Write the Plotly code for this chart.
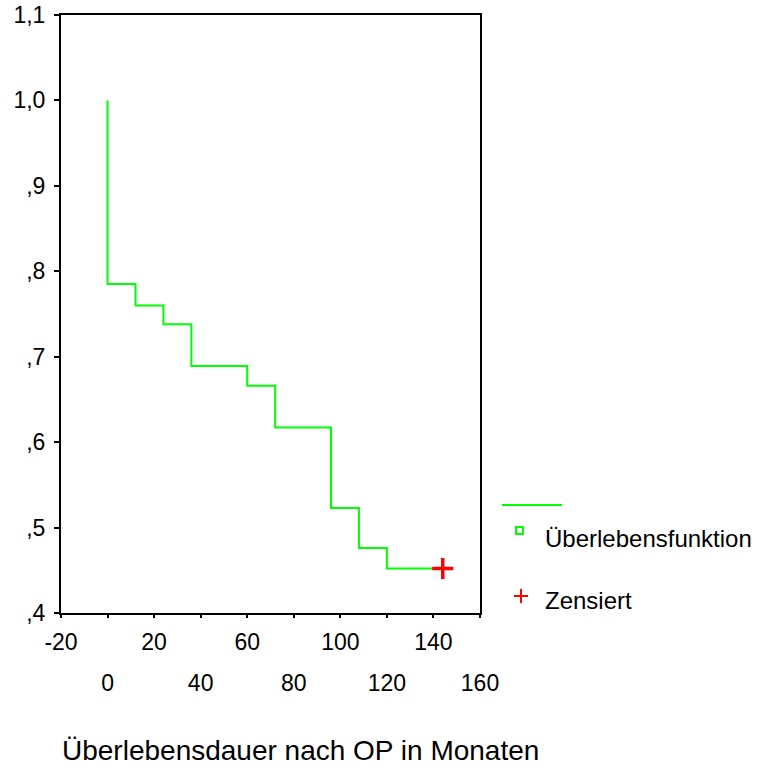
import plotly.graph_objects as go

# Kaplan-Meier survival steps (months, survival)
months = [0, 0, 12, 24, 36, 60, 72, 96, 108, 120, 144]
survival = [1.0, 0.785, 0.760, 0.738, 0.689, 0.666, 0.617, 0.523, 0.476, 0.452, 0.452]
censored_months = [144]
censored_surv = [0.452]

x_ticks_all = [-20, 0, 20, 40, 60, 80, 100, 120, 140, 160]
x_labels_row1 = ["-20", "", "20", "", "60", "", "100", "", "140", ""]
x_ticks_row2 = [0, 40, 80, 120, 160]
x_labels_row2 = ["0", "40", "80", "120", "160"]
y_ticks = [0.4, 0.5, 0.6, 0.7, 0.8, 0.9, 1.0, 1.1]
y_labels = [",4", ",5", ",6", ",7", ",8", ",9", "1,0", "1,1"]

FONT = "Liberation Sans, Arial, sans-serif"
GREEN = "#00ff00"
RED = "#ff0000"

fig = go.Figure()
fig.add_trace(go.Scatter(x=months, y=survival, mode="lines", line_shape="hv",
                         line=dict(color=GREEN, width=2), showlegend=False, hoverinfo="skip"))
fig.add_trace(go.Scatter(x=censored_months, y=censored_surv, mode="markers", xaxis="x2",
                         marker=dict(symbol="cross-thin", size=15, line=dict(color=RED, width=3.5), color=RED),
                         showlegend=False, hoverinfo="skip"))

fig.update_layout(
    width=783, height=774,
    margin=dict(l=61, r=303, t=15, b=161),
    plot_bgcolor="white", paper_bgcolor="white",
    font=dict(family=FONT, color="black", size=23),
    xaxis=dict(range=[-20, 160], tickvals=x_ticks_all, ticktext=x_labels_row1, automargin=False,
               showgrid=False, zeroline=False, showline=True, mirror=True,
               linecolor="black", linewidth=2, ticks="outside", ticklen=3, tickwidth=2,
               tickcolor="black", ticklabelstandoff=4, tickfont=dict(size=23)),
    xaxis2=dict(range=[-20, 160], matches="x", overlaying="x", anchor="y", side="bottom",
                automargin=False,
                tickvals=x_ticks_row2, ticktext=x_labels_row2, showgrid=False, zeroline=False,
                showline=False, ticks="", ticklabelstandoff=54, tickfont=dict(size=23)),
    yaxis=dict(range=[0.4, 1.1], tickvals=y_ticks, ticktext=y_labels, automargin=False,
               showgrid=False, zeroline=False, showline=True, mirror=True,
               linecolor="black", linewidth=2, ticks="outside", ticklen=5, tickwidth=2,
               tickcolor="black", ticklabelstandoff=4, tickfont=dict(size=23)),
)

def px_x(px):
    return (px - 61) / 419

def px_y(py):
    return (613 - py) / 598

shapes = [
    dict(type="line", xref="paper", yref="paper", x0=px_x(502), x1=px_x(562), y0=px_y(505), y1=px_y(505),
         line=dict(color=GREEN, width=2)),
    dict(type="rect", xref="paper", yref="paper", x0=px_x(516), x1=px_x(523), y0=px_y(534), y1=px_y(527),
         line=dict(color=GREEN, width=2)),
    dict(type="line", xref="paper", yref="paper", x0=px_x(514), x1=px_x(528), y0=px_y(596), y1=px_y(596),
         line=dict(color=RED, width=2)),
    dict(type="line", xref="paper", yref="paper", x0=px_x(521), x1=px_x(521), y0=px_y(589), y1=px_y(603),
         line=dict(color=RED, width=2)),
]
fig.update_layout(shapes=shapes)

fig.add_annotation(text="Überlebensfunktion", xref="paper", yref="paper", x=px_x(543), y=px_y(538),
                   xanchor="left", yanchor="middle", showarrow=False, font=dict(size=24, family=FONT))
fig.add_annotation(text="Zensiert", xref="paper", yref="paper", x=px_x(543), y=px_y(600),
                   xanchor="left", yanchor="middle", showarrow=False, font=dict(size=24, family=FONT))
fig.add_annotation(text="Überlebensdauer nach OP in Monaten", xref="paper", yref="paper",
                   x=px_x(300), y=px_y(750), xanchor="center", yanchor="middle", showarrow=False,
                   font=dict(size=28, family=FONT))

fig.write_html("out.html")
